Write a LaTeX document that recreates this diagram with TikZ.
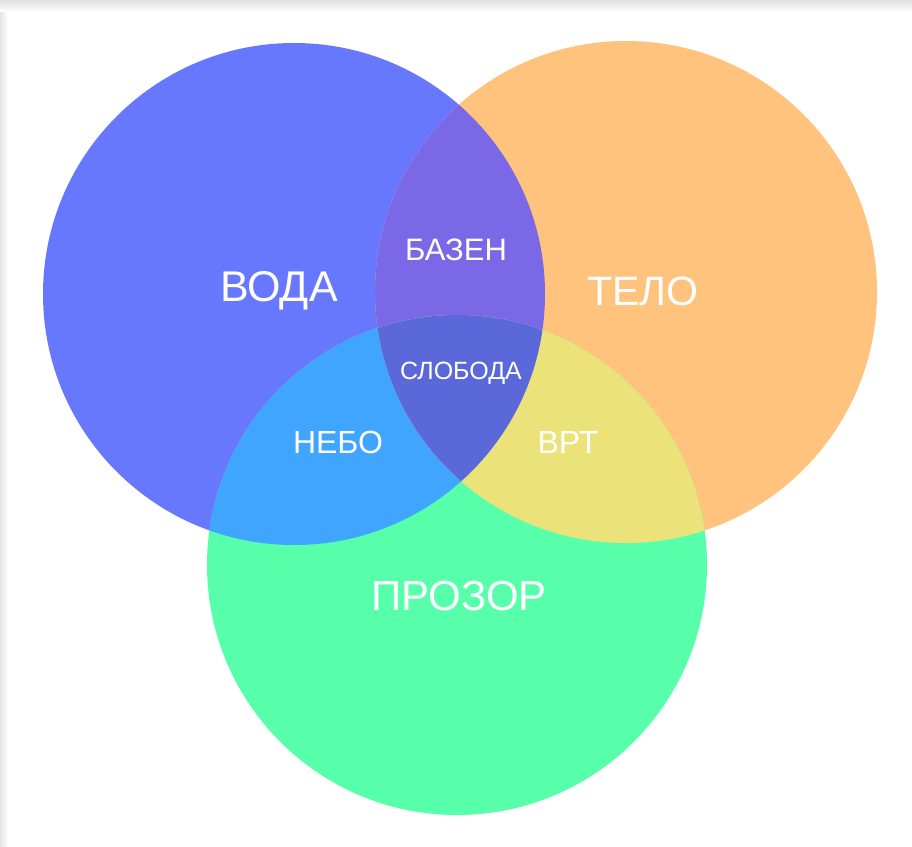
\documentclass[tikz,border=0pt]{standalone}
\usepackage{fontspec}
\setmainfont{Liberation Sans}
\definecolor{cblue}{HTML}{6778FF}
\definecolor{corange}{HTML}{FFC37D}
\definecolor{cgreen}{HTML}{58FFAA}
\definecolor{cbo}{HTML}{7B68E6}
\definecolor{cbg}{HTML}{40A5FF}
\definecolor{cog}{HTML}{EBE37A}
\definecolor{call}{HTML}{5A68DA}
\begin{document}
\begin{tikzpicture}[x=1pt,y=-1pt,
  lbl/.style={text=white,inner sep=0pt,anchor=center}]
\useasboundingbox (0,0) rectangle (912,846);
\fill[white] (0,0) rectangle (912,846);
\shade[top color=black!12,bottom color=white] (0,0) rectangle (912,12);
\shade[left color=black!10,right color=white] (0,12) rectangle (8,846);
\fill[white] (8,12) rectangle (912,846);
% circles
\coordinate (B) at (294,294);
\coordinate (O) at (626,292);
\coordinate (G) at (457,565);
\def\R{251}
\fill[cblue] (B) circle (\R);
\fill[corange] (O) circle (\R);
\fill[cgreen] (G) circle (250);
\begin{scope}
  \clip (B) circle (\R);
  \fill[cbo] (O) circle (\R);
  \fill[cbg] (G) circle (250);
  \clip (O) circle (\R);
  \fill[call] (G) circle (250);
\end{scope}
\begin{scope}
  \clip (O) circle (\R);
  \clip (G) circle (250);
  \fill[cog] (B) circle (\R) [reset cm] (-10000pt,-10000pt) rectangle (10000pt,10000pt);
\end{scope}
\begin{scope}
  \clip (B) circle (\R);
  \clip (O) circle (\R);
  \fill[call] (G) circle (250);
\end{scope}
% labels
\node[lbl,font=\fontsize{43}{43}\selectfont] (voda) at (279,291) {ВОДА};
\node[lbl,font=\fontsize{41}{41}\selectfont] (telo) at (643,291) {ТЕЛО};
\node[lbl,font=\fontsize{31}{31}\selectfont] (bazen) at (456,250) {БАЗЕН};
\node[lbl,font=\fontsize{25}{25}\selectfont] (sloboda) at (461,373) {СЛОБОДА};
\node[lbl,font=\fontsize{32}{32}\selectfont] (nebo) at (338,442) {НЕБО};
\node[lbl,font=\fontsize{32}{32}\selectfont] (vrt) at (568,442) {ВРТ};
\node[lbl,font=\fontsize{42}{42}\selectfont] (prozor) at (459,596) {ПРОЗОР};
\end{tikzpicture}
\end{document}
